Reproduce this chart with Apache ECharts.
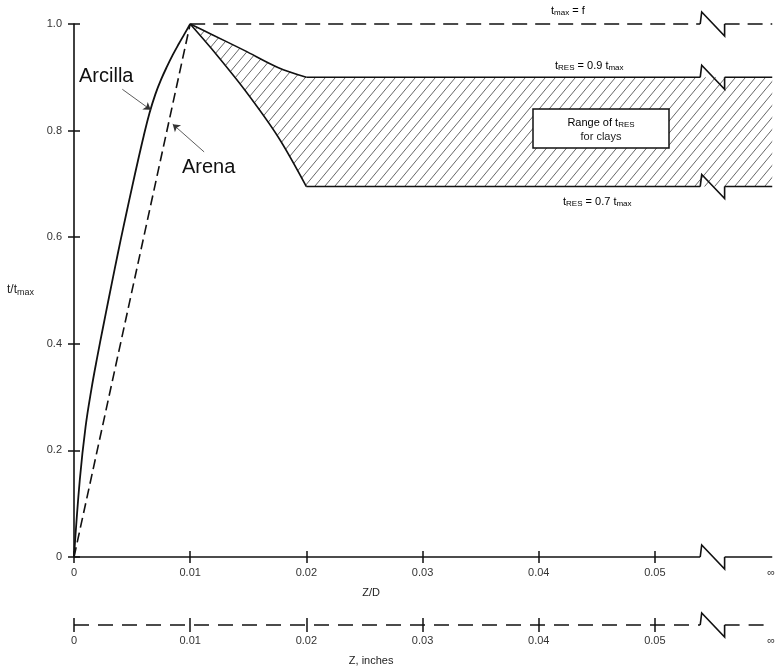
<!DOCTYPE html>
<html><head><meta charset="utf-8">
<script src="https://cdn.jsdelivr.net/npm/echarts@6/dist/echarts.min.js"></script>
<style>html,body{margin:0;padding:0;background:#fff}#c{width:778px;height:667px}</style>
</head><body><div id="c"></div>
<script>
const FONT = '"Liberation Sans", Arial, Helvetica, sans-serif';

// ---- data ----
const xTicks = [0, 0.01, 0.02, 0.03, 0.04, 0.05];
const xLabelValues = [0, 0.01, 0.02, 0.03, 0.04, 0.05, 0.06];
const yTicks = [0, 0.2, 0.4, 0.6, 0.8, 1.0];
const xMax = 0.0601;
const breakX = [0.0539, 0.0560];

const arcillaX = [0, 0.0005, 0.001, 0.0015, 0.002, 0.0025, 0.003, 0.0035, 0.004, 0.0045, 0.005, 0.0055, 0.006, 0.0065, 0.007, 0.0075, 0.008, 0.0085, 0.009, 0.0095, 0.01];
const arcillaY = [0, 0.145, 0.245, 0.315, 0.375, 0.431, 0.486, 0.540, 0.593, 0.644, 0.694, 0.743, 0.790, 0.833, 0.868, 0.896, 0.920, 0.942, 0.962, 0.981, 1.0];
const arenaX = [0, 0.01];
const arenaY = [0, 1.0];

const upperX = [0.01, 0.0119, 0.0147, 0.0176, 0.02];
const upperY = [1.0, 0.98, 0.95, 0.918, 0.9];
const lowerX = [0.01, 0.0119, 0.0147, 0.0176, 0.02];
const lowerY = [1.0, 0.952, 0.876, 0.787, 0.695];

const tMax = 1.0, tRes90 = 0.9, tRes70 = 0.695;
const tMaxStartX = 0.01, resStartX = 0.02;

const arcillaLeader = [[0.00416, 0.8775], [0.0066, 0.839]];
const arenaLeader = [[0.0112, 0.760], [0.0085, 0.812]];

// ---- helpers ----
const pair = (xs, ys) => xs.map((x, i) => [x, ys[i]]);

const pat = document.createElement('canvas');
pat.width = 10; pat.height = 12;
(function(){
  const g = pat.getContext('2d');
  g.strokeStyle = '#555'; g.lineWidth = 0.9;
  for (let k = -1; k <= 1; k++) {
    g.beginPath();
    g.moveTo(k * 10 - 10, 24); g.lineTo(k * 10 + 20, -12);
    g.stroke();
  }
})();

function line(data, xi, yi, style, extra) {
  return Object.assign({
    type: 'line', xAxisIndex: xi, yAxisIndex: yi, data: data, symbol: 'none',
    clip: false, silent: true, z: 3,
    lineStyle: Object.assign({color: '#111', width: 1.6}, style)
  }, extra || {});
}
function flat(y, x0, xi, yi, style) {
  return [
    line([[x0, y], [breakX[0], y]], xi, yi, style),
    line([[breakX[1], y], [xMax, y]], xi, yi, style)
  ];
}
function zigzag(params, api) {
  const y = api.value(2);
  const a = api.coord([api.value(0), y]);
  const b = api.coord([api.value(1), y]);
  const h = 12;
  return {type: 'polyline', shape: {points: [[a[0], a[1]], [a[0] + 1.5, a[1] - h], [b[0], b[1] + h], [b[0], b[1]]]},
    style: {stroke: '#111', lineWidth: 1.6, fill: null}};
}
function hatch(params, api) {
  const top = upperX.map((x, i) => api.coord([x, upperY[i]])).concat([api.coord([xMax, tRes90])]);
  const bot = [api.coord([xMax, tRes70])].concat(lowerX.map((x, i) => api.coord([x, lowerY[i]])).reverse());
  return {type: 'polygon', shape: {points: top.concat(bot)}, style: {fill: {image: pat, repeat: 'repeat'}, stroke: null}};
}

const tickStyle = {color: '#111', width: 1.5};
const labelStyle = {fontFamily: FONT, fontSize: 11, color: '#333'};
const xFmt = v => v > 0.0595 ? '∞' : (v === 0 ? '0' : v.toFixed(2));

const sub = {
  m: {fontFamily: FONT, fontSize: 11, color: '#222', lineHeight: 12, verticalAlign: 'top'},
  s: {fontFamily: FONT, fontSize: 8, color: '#222', lineHeight: 8, verticalAlign: 'bottom', padding: [6, 0, 0, 0]}
};
const subY = {
  m: {fontFamily: FONT, fontSize: 12, color: '#222', lineHeight: 13, verticalAlign: 'top'},
  s: {fontFamily: FONT, fontSize: 9, color: '#222', lineHeight: 9, verticalAlign: 'bottom', padding: [6, 0, 0, 0]}
};

const option = {
  animation: false,
  backgroundColor: '#fff',
  grid: [
    {left: 74, right: 0, top: 24, height: 533},
    {left: 74, right: 0, top: 605, height: 20}
  ],
  xAxis: [
    {type: 'value', gridIndex: 0, position: 'bottom', min: 0, max: xMax, splitLine: {show: false}, axisLine: {show: false},
     axisTick: {show: true, customValues: xTicks, length: 6, lineStyle: tickStyle},
     axisLabel: Object.assign({customValues: xLabelValues, formatter: xFmt, margin: 10}, labelStyle),
     name: 'Z/D', nameLocation: 'middle', nameGap: 30,
     nameTextStyle: {fontFamily: FONT, fontSize: 11, color: '#222', padding: [0, 104, 0, 0]}},
    {type: 'value', gridIndex: 0, position: 'bottom', offset: 0, min: 0, max: xMax, splitLine: {show: false}, axisLine: {show: false},
     axisTick: {show: true, inside: true, customValues: xTicks, length: 6, lineStyle: tickStyle},
     axisLabel: {show: false}},
    {type: 'value', gridIndex: 1, position: 'bottom', min: 0, max: xMax, splitLine: {show: false}, axisLine: {show: false},
     axisTick: {show: true, customValues: xTicks, length: 7, lineStyle: tickStyle},
     axisLabel: Object.assign({customValues: xLabelValues, formatter: xFmt, margin: 10}, labelStyle),
     name: 'Z, inches', nameLocation: 'middle', nameGap: 30,
     nameTextStyle: {fontFamily: FONT, fontSize: 11, color: '#222', padding: [0, 104, 0, 0]}},
    {type: 'value', gridIndex: 1, position: 'bottom', offset: 0, min: 0, max: xMax, splitLine: {show: false}, axisLine: {show: false},
     axisTick: {show: true, inside: true, customValues: xTicks, length: 7, lineStyle: tickStyle},
     axisLabel: {show: false}}
  ],
  yAxis: [
    {type: 'value', gridIndex: 0, position: 'left', min: 0, max: 1, interval: 0.2, splitLine: {show: false},
     axisLine: {show: true, lineStyle: {color: '#111', width: 1.6}},
     axisTick: {show: true, length: 6, lineStyle: tickStyle},
     axisLabel: Object.assign({formatter: v => v === 0 ? '0' : v.toFixed(1), margin: 12}, labelStyle),
     name: '{m|t/t}{s|max}', nameLocation: 'middle', nameRotate: 0, nameGap: 40,
     nameTextStyle: {rich: subY}},
    {type: 'value', gridIndex: 0, position: 'left', offset: 0, min: 0, max: 1, interval: 0.2, splitLine: {show: false},
     axisLine: {show: false}, axisTick: {show: true, inside: true, length: 6, lineStyle: tickStyle},
     axisLabel: {show: false}},
    {type: 'value', gridIndex: 1, min: 0, max: 1, show: false}
  ],
  series: [
    {type: 'custom', xAxisIndex: 0, yAxisIndex: 0, data: [[0.02, 0.8]], renderItem: hatch, silent: true, z: 1},
    line(pair(upperX, upperY), 0, 0, {}, {smooth: 0.3}),
    line(pair(lowerX, lowerY), 0, 0, {}, {smooth: 0.3}),
    ...flat(tRes90, resStartX, 0, 0, {}),
    ...flat(tRes70, resStartX, 0, 0, {}),
    ...flat(tMax, tMaxStartX, 0, 0, {type: [15, 8]}),
    ...flat(0, 0, 0, 0, {}),
    ...flat(0, 0, 2, 2, {type: [15, 9]}),
    line(pair(arcillaX, arcillaY), 0, 0, {width: 1.8}, {
      smooth: 0.4,
      markLine: {silent: true, symbol: ['none', 'arrow'], symbolSize: 7, animation: false,
        label: {show: false}, lineStyle: {color: '#333', width: 0.8, type: 'solid'},
        emphasis: {disabled: true},
        data: [
          [{coord: arcillaLeader[0]}, {coord: arcillaLeader[1]}],
          [{coord: arenaLeader[0]}, {coord: arenaLeader[1]}]
        ]}
    }),
    line(pair(arenaX, arenaY), 0, 0, {type: [10, 5], width: 1.6}),
    {type: 'custom', xAxisIndex: 0, yAxisIndex: 0, renderItem: zigzag, silent: true, z: 4,
     encode: {x: [0, 1], y: 2},
     data: [[breakX[0], breakX[1], tMax], [breakX[0], breakX[1], tRes90], [breakX[0], breakX[1], tRes70], [breakX[0], breakX[1], 0]]},
    {type: 'custom', xAxisIndex: 2, yAxisIndex: 2, renderItem: zigzag, silent: true, z: 4,
     encode: {x: [0, 1], y: 2},
     data: [[breakX[0], breakX[1], 0]]}
  ],
  graphic: [
    {type: 'text', x: 79, y: 76, style: {text: 'Arcilla', font: '20px ' + FONT, fill: '#111', textVerticalAlign: 'middle'}},
    {type: 'text', x: 182, y: 167, style: {text: 'Arena', font: '20px ' + FONT, fill: '#111', textVerticalAlign: 'middle'}},
    {type: 'text', x: 551, y: 11, style: {text: '{m|t}{s|max}{m| = f}', rich: sub, textVerticalAlign: 'middle'}},
    {type: 'text', x: 555, y: 66, style: {text: '{m|t}{s|RES}{m| = 0.9 t}{s|max}', rich: sub, textVerticalAlign: 'middle'}},
    {type: 'text', x: 563, y: 202, style: {text: '{m|t}{s|RES}{m| = 0.7 t}{s|max}', rich: sub, textVerticalAlign: 'middle'}},
    {type: 'rect', shape: {x: 533, y: 109, width: 136, height: 39}, style: {fill: '#fff', stroke: '#111', lineWidth: 1.5}, z: 10},
    {type: 'text', x: 601, y: 123, z: 11, style: {text: '{m|Range of t}{s|RES}', rich: sub, textAlign: 'center', textVerticalAlign: 'middle'}},
    {type: 'text', x: 601, y: 137, z: 11, style: {text: 'for clays', font: '11px ' + FONT, fill: '#222', textAlign: 'center', textVerticalAlign: 'middle'}}
  ]
};
const chart = echarts.init(document.getElementById('c'), null, {renderer: 'canvas'});
chart.setOption(option);
</script>
</body></html>
